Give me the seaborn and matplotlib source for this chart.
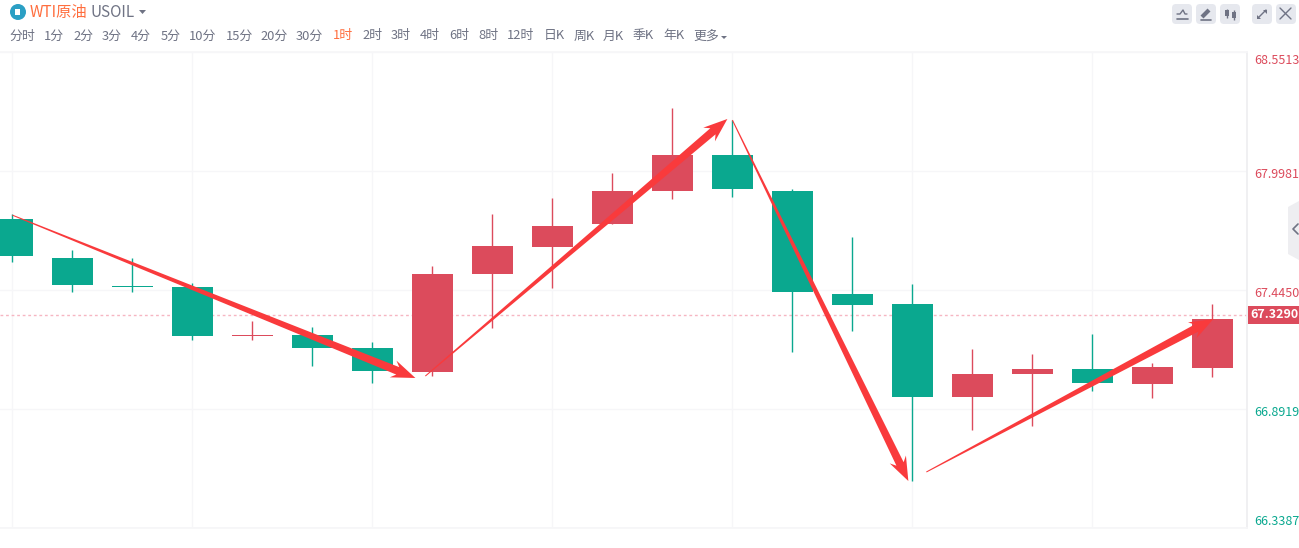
import matplotlib
matplotlib.use("Agg")
import matplotlib.pyplot as plt
from matplotlib.patches import FancyBboxPatch, Polygon, Circle, Rectangle
from matplotlib.transforms import ScaledTranslation
import numpy as np
import seaborn as sns

# --- data: one hour candles, prices ---
up_idx = [4, 7, 8, 9, 10, 11, 16, 17, 19, 20]
up_open = [67.231, 67.064, 67.519, 67.645, 67.752, 67.905, 66.948, 67.055, 67.008, 67.082]
up_close = [67.236, 67.519, 67.649, 67.742, 67.905, 68.072, 67.055, 67.078, 67.087, 67.310]
up_high = [67.301, 67.557, 67.798, 67.873, 67.989, 68.291, 67.171, 67.148, 67.106, 67.380]
up_low = [67.213, 67.045, 67.268, 67.454, 67.752, 67.868, 66.794, 66.813, 66.943, 67.041]

down_idx = [0, 1, 2, 3, 5, 6, 12, 13, 14, 15, 18]
down_open = [67.775, 67.594, 67.464, 67.459, 67.236, 67.175, 68.072, 67.905, 67.426, 67.380, 67.078]
down_close = [67.603, 67.468, 67.459, 67.231, 67.175, 67.068, 67.914, 67.436, 67.375, 66.948, 67.013]
down_high = [67.798, 67.631, 67.594, 67.478, 67.273, 67.203, 68.235, 67.914, 67.691, 67.473, 67.240]
down_low = [67.575, 67.436, 67.436, 67.213, 67.092, 67.013, 67.877, 67.157, 67.254, 66.557, 66.976]

price_ticks = [68.5513, 67.9981, 67.4450, 66.8919, 66.3387]
price_labels = ["68.5513", "67.9981", "67.4450", "66.8919", "66.3387"]
last_price = 67.3290

# hand drawn arrows: start index, start price, end index, end price
arrow_x0 = [0.0, 6.883, 12.0, 15.233]
arrow_y0 = [67.793, 67.045, 68.235, 66.599]
arrow_x1 = [6.717, 11.917, 14.933, 20.017]
arrow_y1 = [67.036, 68.240, 66.557, 67.310]

periods = ["分时", "1分", "2分", "3分", "4分", "5分", "10分", "15分", "20分", "30分", "1时", "2时",
           "3时", "4时", "6时", "8时", "12时", "日K", "周K", "月K", "季K", "年K", "更多"]
period_x = [22, 54, 83, 112, 141, 171, 203, 239, 274, 309, 343, 372,
            401, 430, 459, 488, 520, 554, 584, 613, 643, 674, 706]

RED = "#dc4b5c"
GREEN = "#0aa88f"
ARROW = "#f93a3c"
GREY = "#6f7384"
ORANGE = "#ff6e3e"

sns.set_theme(style="white")
plt.rcParams['font.family'] = ['Noto Sans CJK SC', 'DejaVu Sans']

fig = plt.figure(figsize=(12.99, 5.48), dpi=100)
ax = fig.add_axes([0, 20 / 548, 1247 / 1299, 476 / 548])

# --- candles ---
ax.vlines(up_idx, up_low, up_high, color=RED, lw=1, zorder=2)
ax.vlines(down_idx, down_low, down_high, color=GREEN, lw=1, zorder=2)
sns.barplot(x=up_idx, y=np.array(up_close) - np.array(up_open), bottom=up_open, color=RED,
            native_scale=True, width=0.683, saturation=1, errorbar=None, ax=ax, zorder=3, linewidth=0)
sns.barplot(x=down_idx, y=np.array(down_open) - np.array(down_close), bottom=down_close, color=GREEN,
            native_scale=True, width=0.683, saturation=1, errorbar=None, ax=ax, zorder=3, linewidth=0)

ax.set_xlim(-0.206, 20.577)
ax.set_ylim(price_ticks[-1], price_ticks[0])
ax.set_xticks(range(0, 21, 3))
ax.set_xticklabels([])
ax.set_yticks(price_ticks)
ax.set_yticklabels(price_labels, fontsize=9)
ax.yaxis.tick_right()
ax.tick_params(length=0, pad=5)
ax.grid(True, color="#f6f6f8", lw=1)
ax.set_axisbelow(True)
ax.set_xlabel("")
ax.set_ylabel("")
ax.spines["left"].set_visible(False)
for side in ["top", "bottom"]:
    ax.spines[side].set_color("#f6f6f8")
ax.spines["right"].set_color("#eeeef1")

for lab, val in zip(ax.get_yticklabels()[:-1], price_ticks):
    lab.set_color(RED if val > last_price else GREEN)
    lab.set_transform(lab.get_transform() + ScaledTranslation(0, -2.2 / 100, fig.dpi_scale_trans))
ax.get_yticklabels()[0].set_va("top")
ax.get_yticklabels()[-1].set_va("bottom")
ax.get_yticklabels()[-1].set_color(GREEN)

ax.axhline(last_price, color="#f6b6c2", lw=1, ls=(0, (2, 2)), zorder=1)


def draw_arrow(x0, y0, x1, y1):
    # tapered arrow, worked out in pixels so that it keeps its shape
    p0 = ax.transData.transform((x0, y0))
    p1 = ax.transData.transform((x1, y1))
    d = (p1 - p0) / np.linalg.norm(p1 - p0)
    n = np.array([-d[1], d[0]])
    neck = p1 - d * 19
    barb = p1 - d * 24
    pts = [p0 + n * 0.5, neck + n * 4, barb + n * 9, p1, barb - n * 9, neck - n * 4, p0 - n * 0.5]
    ax.add_patch(Polygon(pts, closed=True, transform=None, color=ARROW, lw=0, zorder=5))


fig.canvas.draw()
for i in range(len(arrow_x0)):
    draw_arrow(arrow_x0[i], arrow_y0[i], arrow_x1[i], arrow_y1[i])

# --- page chrome, in pixels ---
top = fig.add_axes([0, 0, 1, 1], zorder=10)
top.set_xlim(0, 1299)
top.set_ylim(548, 0)
top.axis("off")
top.patch.set_alpha(0)

top.add_patch(Circle((18, 12), 8, color="#2b9fc4", lw=0))
top.add_patch(Rectangle((15.5, 9), 5, 6, color="white", lw=0))
top.text(30, 12.5, "WTI原油", color=ORANGE, fontsize=11, va="center")
top.text(91, 12.5, "USOIL", color=GREY, fontsize=11, va="center")
top.add_patch(Polygon([(139, 10), (146, 10), (142.5, 14)], color=GREY, lw=0))

for name, x in zip(periods, period_x):
    top.text(x, 36, name, color=ORANGE if name == "1时" else GREY, fontsize=9.3, ha="center", va="center")
top.add_patch(Polygon([(721, 36), (727, 36), (724, 39)], color=GREY, lw=0))

for x in [1172, 1196, 1220, 1252, 1276]:
    top.add_patch(FancyBboxPatch((x + 3, 7), 14, 14, boxstyle="round,pad=3,rounding_size=4",
                                 color="#e6e8ee", lw=0))
top.plot([1177, 1180, 1183, 1185, 1187], [14, 14, 10, 14, 14], color=GREY, lw=1)
top.plot([1177, 1188], [19, 19], color=GREY, lw=1.2)
top.plot([1202, 1209], [17, 10], color=GREY, lw=3, solid_capstyle="butt")
top.plot([1201, 1211], [19.5, 19.5], color=GREY, lw=1.2)
top.vlines([1227, 1234], [9, 10], [18, 20], color=GREY, lw=1)
top.add_patch(Rectangle((1225, 10), 4, 6, color=GREY, lw=0))
top.add_patch(Rectangle((1232, 12), 4, 6, color=GREY, lw=0))
top.plot([1258, 1266], [18, 10], color=GREY, lw=1)
top.add_patch(Polygon([(1263, 10), (1267, 10), (1267, 14)], color=GREY, lw=0))
top.add_patch(Polygon([(1257, 15), (1257, 19), (1261, 19)], color=GREY, lw=0))
top.plot([1280, 1291], [8, 19], color=GREY, lw=1)
top.plot([1280, 1291], [19, 8], color=GREY, lw=1)

# side handle
top.add_patch(Polygon([(1299, 201), (1288, 207), (1288, 254), (1299, 260)], color="#eeeef1", lw=0))
top.plot([1298, 1293, 1298], [224, 229, 234], color=GREY, lw=1.2)

# current price tag
top.add_patch(Rectangle((1248, 306), 51, 18, color=RED, lw=0))
top.text(1274, 315, "67.3290", color="white", fontsize=9, fontweight="bold", ha="center", va="center")

fig.savefig("out.png", dpi=100)
